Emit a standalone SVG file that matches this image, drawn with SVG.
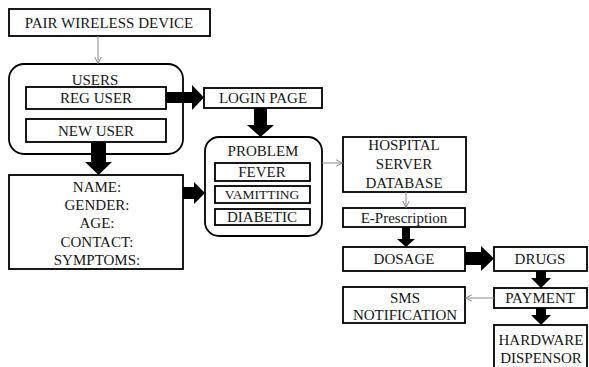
<svg xmlns="http://www.w3.org/2000/svg" width="589" height="367" viewBox="0 0 589 367">
<defs>
<style>
.box{fill:#fff;stroke:#000;stroke-width:1.8}
.t{font-family:'Liberation Serif','Tinos','DejaVu Serif','Noto Serif',serif;font-size:15px;fill:#161616;text-anchor:middle}
.big{fill:#000;stroke:none}
.thin{stroke:#8a8a8a;stroke-width:1;fill:none}
</style>
<marker id="open" viewBox="0 0 10 10" refX="9" refY="5" markerWidth="8" markerHeight="8" markerUnits="userSpaceOnUse" orient="auto">
<path d="M1,1 L9,5 L1,9" fill="none" stroke="#8a8a8a" stroke-width="1.2"/>
</marker>
</defs>
<rect width="589" height="367" fill="#fff"/>

<g id="pair">
<rect class="box" x="9" y="9" width="201" height="27"/>
<text class="t" x="109" y="28">PAIR WIRELESS DEVICE</text>
</g>

<g id="users">
<rect class="box" x="9" y="64" width="174" height="90" rx="15"/>
<text class="t" x="95" y="85">USERS</text>
</g>
<g id="reguser">
<rect class="box" x="26" y="87" width="140" height="22"/>
<text class="t" x="96" y="103">REG USER</text>
</g>
<g id="newuser">
<rect class="box" x="26" y="119" width="140" height="23"/>
<text class="t" x="96" y="136">NEW USER</text>
</g>

<g id="details">
<rect class="box" x="9" y="175" width="174" height="94"/>
<text class="t" x="97" y="192">NAME:</text>
<text class="t" x="97" y="210">GENDER:</text>
<text class="t" x="97" y="228">AGE:</text>
<text class="t" x="97" y="247">CONTACT:</text>
<text class="t" x="97" y="265">SYMPTOMS:</text>
</g>

<g id="login">
<rect class="box" x="204" y="88" width="118" height="20"/>
<text class="t" x="263" y="103">LOGIN PAGE</text>
</g>

<g id="problem">
<rect class="box" x="205" y="137" width="117" height="99" rx="14"/>
<text class="t" x="263" y="156">PROBLEM</text>
</g>
<g id="fever">
<rect class="box" x="215" y="163" width="95" height="18"/>
<text class="t" x="262" y="177">FEVER</text>
</g>
<g id="vamitting">
<rect class="box" x="215" y="186" width="95" height="17"/>
<text class="t" x="262" y="199" style="font-size:13.5px">VAMITTING</text>
</g>
<g id="diabetic">
<rect class="box" x="215" y="209" width="95" height="16"/>
<text class="t" x="262" y="222">DIABETIC</text>
</g>

<g id="hospital">
<rect class="box" x="343" y="137" width="123" height="55"/>
<text class="t" x="404" y="150">HOSPITAL</text>
<text class="t" x="404" y="169">SERVER</text>
<text class="t" x="404" y="188">DATABASE</text>
</g>

<g id="eprescription">
<rect class="box" x="343" y="208" width="122" height="19"/>
<text class="t" x="404" y="223">E-Prescription</text>
</g>

<g id="dosage">
<rect class="box" x="343" y="247" width="122" height="24"/>
<text class="t" x="404" y="264">DOSAGE</text>
</g>

<g id="drugs">
<rect class="box" x="494" y="247" width="93" height="24"/>
<text class="t" x="540" y="264">DRUGS</text>
</g>

<g id="payment">
<rect class="box" x="494" y="288" width="93" height="20"/>
<text class="t" x="540" y="303">PAYMENT</text>
</g>

<g id="sms">
<rect class="box" x="343" y="287" width="122" height="36"/>
<text class="t" x="405" y="303">SMS</text>
<text class="t" x="405" y="320">NOTIFICATION</text>
</g>

<g id="hardware">
<rect class="box" x="494" y="325" width="93" height="60"/>
<text class="t" x="541" y="345">HARDWARE</text>
<text class="t" x="541" y="363">DISPENSOR</text>
</g>

<g id="connectors">
<line class="thin" x1="98" y1="36" x2="98" y2="63.5" marker-end="url(#open)"/>
<line class="thin" x1="322" y1="163" x2="342.5" y2="163" marker-end="url(#open)"/>
<line class="thin" x1="406" y1="192" x2="406" y2="207.5" marker-end="url(#open)"/>
<line class="thin" x1="494" y1="298" x2="465.5" y2="298" marker-end="url(#open)"/>
<polygon class="big" points="166,92 192,92 192,85 204,97.5 192,110 192,103 166,103"/>
<polygon class="big" points="183,187 194,187 194,182 205,193 194,204 194,199 183,199"/>
<polygon class="big" points="465,252 481,252 481,246 494,258.5 481,271 481,265 465,265"/>
<polygon class="big" points="254,108 267,108 267,125 274,125 260.5,137 247,125 254,125"/>
<polygon class="big" points="91,142 106,142 106,162 112,162 98.5,175 85,162 91,162"/>
<polygon class="big" points="402,227 410,227 410,239 415,239 406,247 397,239 402,239"/>
<polygon class="big" points="536,271 546,271 546,278 551,278 541,288 531,278 536,278"/>
<polygon class="big" points="536,308 546,308 546,315 551,315 541,325 531,315 536,315"/>
</g>
</svg>
